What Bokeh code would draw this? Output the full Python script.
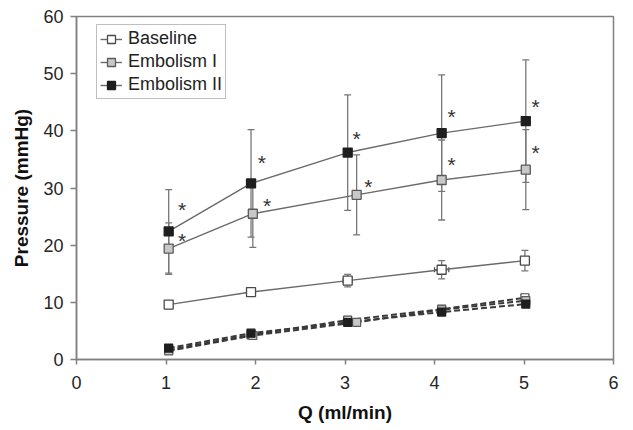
from bokeh.plotting import figure
from bokeh.models import (ColumnDataSource, Whisker, TeeHead, Legend, LegendItem,
                          FixedTicker, Range1d)
from bokeh.core.properties import value
from bokeh.embed import file_html
from bokeh.resources import INLINE

# ---- data ----
x_ticks = [0, 1, 2, 3, 4, 5, 6]
y_ticks = [0, 10, 20, 30, 40, 50, 60]

series_names = ["Baseline", "Embolism I", "Embolism II"]

q_baseline = [1.03, 1.95, 3.03, 4.08, 5.01]
q_emb1 = [1.03, 1.97, 3.13, 4.08, 5.02]
q_emb2 = [1.03, 1.95, 3.03, 4.08, 5.02]

p_baseline = [9.6, 11.8, 13.8, 15.7, 17.3]
sd_baseline = [0.7, 0.5, 1.1, 1.6, 1.8]
qsd_baseline = [0.0, 0.0, 0.05, 0.08, 0.0]
p_emb1 = [19.4, 25.5, 28.8, 31.4, 33.2]
sd_emb1 = [4.5, 5.9, 7.0, 7.0, 7.0]
p_emb2 = [22.4, 30.8, 36.2, 39.6, 41.7]
sd_emb2 = [7.3, 9.4, 10.1, 10.2, 10.7]

# dashed (second pressure) series
v_baseline = [1.7, 4.3, 6.9, 8.8, 10.8]
v_emb1 = [1.5, 4.2, 6.5, 8.7, 10.3]
v_emb2 = [2.0, 4.6, 6.5, 8.3, 9.7]

# significance asterisks
star_q = [1.18, 1.18, 2.07, 2.13, 3.13, 3.26, 4.19, 4.19, 5.13, 5.13]
star_p = [27.2, 21.7, 35.3, 27.8, 39.5, 31.1, 43.4, 35.0, 45.1, 37.1]

# ---- styles ----
FONT = "Liberation Sans"
fills = ["#ffffff", "#c8c8c8", "#1e1e1e"]
edges = ["#4a4a4a", "#5a5a5a", "#1e1e1e"]
LINE = "#6a6a6a"
ERR = "#777777"
GREY = "#808080"

p = figure(width=625, height=430, x_range=Range1d(0, 6), y_range=Range1d(0, 60),
           output_backend="svg", toolbar_location=None,
           min_border_left=76, min_border_right=12, min_border_top=16,
           min_border_bottom=71)
p.xgrid.visible = False
p.ygrid.visible = False
p.outline_line_color = GREY
p.outline_line_width = 1.5
p.background_fill_color = "white"
p.border_fill_color = "white"

for ax, ticks in ((p.xaxis[0], x_ticks), (p.yaxis[0], y_ticks)):
    ax.ticker = FixedTicker(ticks=ticks)
    ax.minor_tick_line_color = None
    ax.axis_line_color = GREY
    ax.axis_line_width = 1.5
    ax.major_tick_line_color = GREY
    ax.major_tick_line_width = 1.5
    ax.major_tick_in = 0
    ax.major_label_text_font = FONT
    ax.major_label_text_font_size = "18px"
    ax.major_label_text_color = "#262626"
    ax.axis_label_text_font = FONT
    ax.axis_label_text_font_size = "19px"
    ax.axis_label_text_font_style = "bold"
    ax.axis_label_text_color = "#111111"

p.xaxis.axis_label = "Q (ml/min)"
p.yaxis.axis_label = "Pressure (mmHg)"
p.xaxis.major_tick_out = 5
p.xaxis.major_label_standoff = 11
p.xaxis.axis_label_standoff = 10
p.yaxis.major_tick_out = 6
p.yaxis.major_label_standoff = 7
p.yaxis.axis_label_standoff = 8

qs = [q_baseline, q_emb1, q_emb2]
ps = [p_baseline, p_emb1, p_emb2]
sds = [sd_baseline, sd_emb1, sd_emb2]
vs = [v_baseline, v_emb1, v_emb2]

# error bars
for q, pv, sd in zip(qs, ps, sds):
    src = ColumnDataSource(dict(x=q, lo=[a - b for a, b in zip(pv, sd)],
                                hi=[a + b for a, b in zip(pv, sd)]))
    w = Whisker(source=src, base="x", lower="lo", upper="hi", dimension="height",
                line_color=ERR, line_width=1.3, level="underlay",
                lower_head=TeeHead(size=7, line_color=ERR, line_width=1.3),
                upper_head=TeeHead(size=7, line_color=ERR, line_width=1.3))
    p.add_layout(w)

# horizontal error bars on baseline
hx = [(q, pv, s) for q, pv, s in zip(q_baseline, p_baseline, qsd_baseline) if s > 0]
hsrc = ColumnDataSource(dict(y=[h[1] for h in hx], lo=[h[0] - h[2] for h in hx],
                             hi=[h[0] + h[2] for h in hx]))
p.add_layout(Whisker(source=hsrc, base="y", lower="lo", upper="hi", dimension="width",
                     line_color="#444444", line_width=1.2, level="underlay",
                     lower_head=TeeHead(size=5, line_color="#444444", line_width=1.2),
                     upper_head=TeeHead(size=5, line_color="#444444", line_width=1.2)))

# dashed series
for q, v in zip(qs, vs):
    p.line(q, v, line_color="#3a3a3a", line_width=2, line_dash="6 3")
for q, v, f, e in zip(qs, vs, fills, edges):
    p.scatter(q, v, marker="square", size=8, fill_color=f, line_color=e, line_width=1.2)

# solid series
items = []
for name, q, pv, f, e in zip(series_names, qs, ps, fills, edges):
    lr = p.line(q, pv, line_color=LINE, line_width=1.4)
    sr = p.scatter(q, pv, marker="square", size=9, fill_color=f, line_color=e,
                   line_width=1.3)
    items.append(LegendItem(label=name, renderers=[lr, sr]))

# asterisks
p.text(x=star_q, y=star_p, text=value("*"), text_font=value(FONT),
       text_font_size="21px", text_align="center", text_baseline="middle",
       text_color="#333333", y_offset=5)

legend = Legend(items=items, location=(20, 260), orientation="vertical",
                label_text_font=FONT, label_text_font_size="18px",
                label_text_color="#222222", border_line_color=GREY,
                border_line_width=1.5, padding=3, spacing=2, margin=0,
                glyph_width=22, glyph_height=20, label_height=20, label_standoff=6,
                background_fill_color="white", background_fill_alpha=1)
p.add_layout(legend)

open("out.html", "w").write(file_html(p, INLINE))
